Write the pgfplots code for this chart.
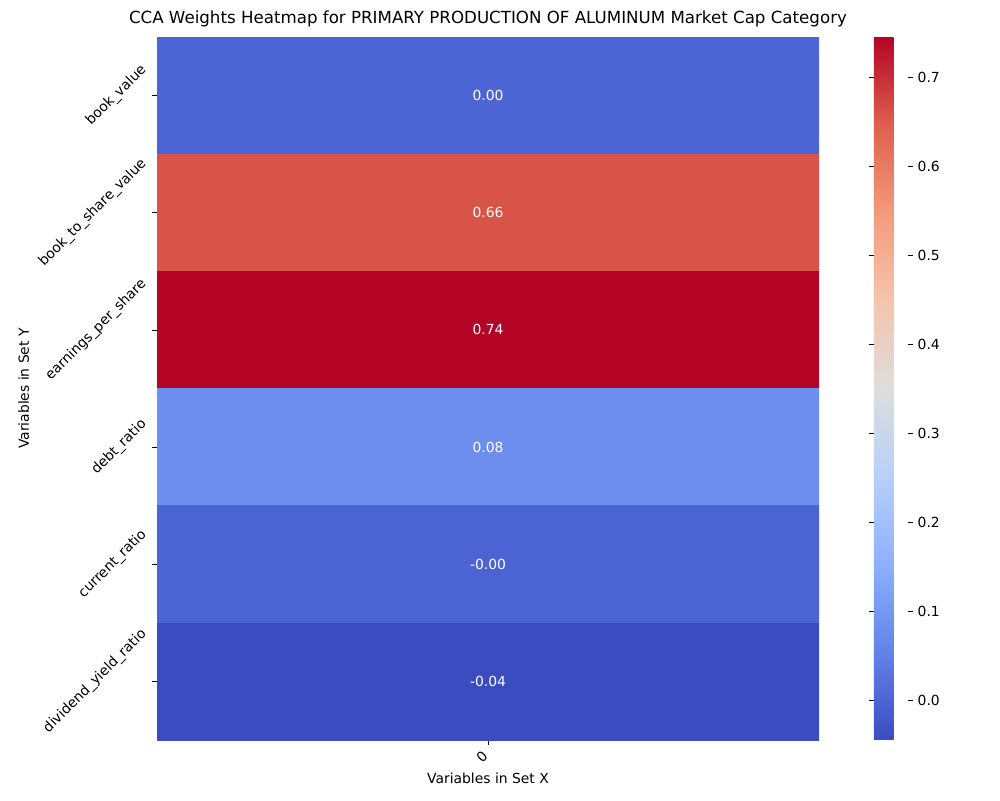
\documentclass[border=0pt]{standalone}
\usepackage{pgfplots}
\pgfplotsset{compat=1.18}
\usepackage{graphicx}
\usepackage{fontspec}
\setmainfont{DejaVu Sans}
\begin{document}
\fontsize{10pt}{12pt}\selectfont
\begin{tikzpicture}
\useasboundingbox (-113.04pt,-43.2pt) rectangle (606.96pt,532.8pt);
\begin{axis}[
  at={(0,0)}, anchor=south west,
  scale only axis, width=476.64pt, height=506.16pt,
  xmin=-0.5, xmax=0.5, ymin=-0.5, ymax=5.5, y dir=reverse,
  axis line style={draw=none},
  tick align=outside, xtick pos=bottom, ytick pos=left,
  major tick length=3.5pt, tick style={black, thin},
  xtick={0}, xticklabels={\rotatebox{45}{0}}, xticklabel style={anchor=north east, xshift=4pt, font=\fontsize{10pt}{12pt}\selectfont},
  ytick={0,1,2,3,4,5},
  yticklabels={\rotatebox{45}{book\_value},\rotatebox{45}{book\_to\_share\_value},\rotatebox{45}{earnings\_per\_share},\rotatebox{45}{debt\_ratio},\rotatebox{45}{current\_ratio},\rotatebox{45}{dividend\_yield\_ratio}},
  yticklabel style={anchor=east, inner sep=2pt, font=\fontsize{10pt}{12pt}\selectfont},
  xlabel={Variables in Set X}, ylabel={Variables in Set Y},
  label style={font=\fontsize{10pt}{12pt}\selectfont},
  title={CCA Weights Heatmap for PRIMARY PRODUCTION OF ALUMINUM Market Cap Category},
  title style={font=\fontsize{12pt}{14pt}\selectfont, yshift=-2pt},
  colormap={coolwarm}{rgb255=(59,76,192) rgb255=(98,130,234) rgb255=(141,176,254) rgb255=(184,208,249) rgb255=(221,221,221) rgb255=(245,196,173) rgb255=(244,154,123) rgb255=(222,96,77) rgb255=(180,4,38)},
  point meta min=-0.045, point meta max=0.745,
  colorbar,
  colorbar style={width=24.48pt, at={(parent axis.north east)}, anchor=north west, xshift=31pt,
    axis line style={draw=none}, ytick={0,0.1,...,0.7}, major tick length=3.5pt,
    yticklabel style={/pgf/number format/fixed, /pgf/number format/precision=1, /pgf/number format/fixed zerofill, /pgf/number format/assume math mode=true, font=\fontsize{10pt}{12pt}\selectfont},
    tick align=outside},
]
\addplot[patch, patch type=rectangle, shader=flat corner, point meta=explicit] coordinates {
(-0.5,-0.5)[0.001] (0.5,-0.5)[0.001] (0.5,0.5)[0.001] (-0.5,0.5)[0.001]
(-0.5,0.5)[0.66] (0.5,0.5)[0.66] (0.5,1.5)[0.66] (-0.5,1.5)[0.66]
(-0.5,1.5)[0.745] (0.5,1.5)[0.745] (0.5,2.5)[0.745] (-0.5,2.5)[0.745]
(-0.5,2.5)[0.08] (0.5,2.5)[0.08] (0.5,3.5)[0.08] (-0.5,3.5)[0.08]
(-0.5,3.5)[-0.001] (0.5,3.5)[-0.001] (0.5,4.5)[-0.001] (-0.5,4.5)[-0.001]
(-0.5,4.5)[-0.045] (0.5,4.5)[-0.045] (0.5,5.5)[-0.045] (-0.5,5.5)[-0.045]
};
\addplot[only marks, mark=none, point meta=explicit symbolic, nodes near coords,
  nodes near coords align=center, every node near coord/.append style={white, font=\fontsize{10pt}{12pt}\selectfont}]
coordinates {(0,0)[0.00] (0,1)[0.66] (0,2)[0.74] (0,3)[0.08] (0,4)[-0.00] (0,5)[-0.04]};
\end{axis}
\end{tikzpicture}
\end{document}
